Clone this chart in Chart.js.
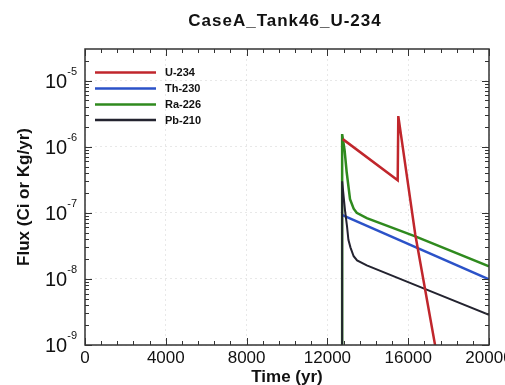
<!DOCTYPE html>
<html>
<head>
<meta charset="utf-8">
<script src="https://cdn.jsdelivr.net/npm/chart.js@4.4.1/dist/chart.umd.min.js"></script>
<style>
  body { margin: 0; background: #fff; }
  #wrap { width: 505px; height: 385px; }
</style>
</head>
<body>
<div id="wrap"><canvas id="fluxChart"></canvas></div>
<script>
// CaseA Tank46 U-234 flux chart
var chartTitle = "CaseA_Tank46_U-234";
var xTitle = "Time (yr)";
var yTitle = "Flux (Ci or Kg/yr)";

var xTicks = [0, 4000, 8000, 12000, 16000, 20000];
var yExponents = [-9, -8, -7, -6, -5];

var seriesNames = ["U-234", "Th-230", "Ra-226", "Pb-210"];
var seriesColors = ["#c0262c", "#2b52c8", "#2f8a1e", "#23232f"];

// time (yr) and flux values
var u234Time = [12760, 15480, 15510, 16350, 17330, 17700];
var u234Flux = [1.3e-6, 3.1e-7, 2.9e-6, 4.7e-8, 1.0e-9, 2.2e-10];

var th230Time = [12745, 20000];
var th230Flux = [9.2e-8, 9.8e-9];

var ra226Time = [12730, 12730, 12850, 12955, 13120, 13300, 13450, 13950, 16350, 20000];
var ra226Flux = [1e-12, 1.55e-6, 8.9e-7, 4.1e-7, 1.6e-7, 1.15e-7, 1.0e-7, 8.3e-8, 4.4e-8, 1.55e-8];

var pb210Time = [12730, 12730, 12870, 12970, 13040, 13140, 13300, 13470, 13950, 16760, 20000];
var pb210Flux = [1e-12, 3.0e-7, 1.1e-7, 6.3e-8, 3.9e-8, 3.0e-8, 2.2e-8, 1.9e-8, 1.6e-8, 7.2e-9, 2.85e-9];

function toPoints(t, v) {
    var pts = [];
    for (var i = 0; i < t.length; i++) {
        pts.push({x: t[i], y: v[i]});
    }
    return pts;
}

var seriesData = [
    toPoints(u234Time, u234Flux),
    toPoints(th230Time, th230Flux),
    toPoints(ra226Time, ra226Flux),
    toPoints(pb210Time, pb210Flux)
];
var drawOrder = [0, 2, 3, 1];
var lineWidths = [2.5, 2.5, 2.5, 2];

var FONT = '"Liberation Sans", Arial, sans-serif';

const framePlugin = {
    id: "frame",
    afterDraw(chart) {
        const ctx = chart.ctx;
        const a = chart.chartArea;
        const x = chart.scales.x;
        const y = chart.scales.y;
        ctx.save();

        // box
        ctx.strokeStyle = "#333";
        ctx.lineWidth = 1.5;
        ctx.strokeRect(a.left, a.top, a.right - a.left, a.bottom - a.top);

        // inward ticks, x
        ctx.lineWidth = 1;
        ctx.beginPath();
        for (let t = 0; t <= 20000; t += 800) {
            const major = t % 4000 === 0;
            const len = major ? 7 : 4;
            const px = Math.round(x.getPixelForValue(t)) + 0.5;
            ctx.moveTo(px, a.bottom); ctx.lineTo(px, a.bottom - len);
            ctx.moveTo(px, a.top); ctx.lineTo(px, a.top + len);
        }
        // inward ticks, y
        for (let e = -9; e <= -5; e++) {
            for (let m = 1; m <= 9; m++) {
                const v = m * Math.pow(10, e);
                if (v > y.max) break;
                const len = m === 1 ? 7 : 4;
                const py = Math.round(y.getPixelForValue(v)) + 0.5;
                ctx.moveTo(a.left, py); ctx.lineTo(a.left + len, py);
                ctx.moveTo(a.right, py); ctx.lineTo(a.right - len, py);
            }
        }
        ctx.stroke();

        // x tick labels
        ctx.fillStyle = "#111";
        ctx.font = "17px " + FONT;
        ctx.textAlign = "center";
        ctx.textBaseline = "middle";
        xTicks.forEach(function(t) {
            ctx.fillText(String(t), x.getPixelForValue(t), a.bottom + 13);
        });

        // y tick labels 10^n
        ctx.textBaseline = "alphabetic";
        ctx.textAlign = "left";
        yExponents.forEach(function(e) {
            const py = y.getPixelForValue(Math.pow(10, e));
            ctx.font = "11px " + FONT;
            const sup = String(e);
            const w2 = ctx.measureText(sup).width;
            ctx.font = "20px " + FONT;
            const w1 = ctx.measureText("10").width;
            const xEnd = a.left - 8;
            ctx.fillText("10", xEnd - w2 - w1, py + 7);
            ctx.font = "11px " + FONT;
            ctx.fillText(sup, xEnd - w2, py - 6);
        });

        // titles
        const cx = (a.left + a.right) / 2;
        ctx.textAlign = "center";
        ctx.textBaseline = "middle";
        ctx.font = "bold 17px " + FONT;
        ctx.letterSpacing = "1px";
        ctx.fillText(chartTitle, cx - 2, 21);
        ctx.letterSpacing = "0px";
        ctx.font = "bold 17px " + FONT;
        ctx.fillText(xTitle, cx, 377);
        ctx.save();
        ctx.translate(24, (a.top + a.bottom) / 2);
        ctx.rotate(-Math.PI / 2);
        ctx.fillText(yTitle, 0, 0);
        ctx.restore();

        // legend
        ctx.font = "bold 11px " + FONT;
        ctx.textAlign = "left";
        const rowsY = [72.5, 88.5, 104.5, 120];
        seriesNames.forEach(function(name, i) {
            ctx.strokeStyle = seriesColors[i];
            ctx.lineWidth = 2.5;
            ctx.beginPath();
            ctx.moveTo(95, rowsY[i]);
            ctx.lineTo(156, rowsY[i]);
            ctx.stroke();
            ctx.fillStyle = "#111";
            ctx.fillText(name, 165, rowsY[i] + 0.5);
        });

        ctx.restore();
    }
};

const ctx = document.getElementById("fluxChart").getContext("2d");

const config = {
    type: "line",
    data: {
        datasets: seriesNames.map(function(name, i) {
            return {
                label: name,
                data: seriesData[i],
                borderColor: seriesColors[i],
                borderWidth: lineWidths[i],
                pointRadius: 0,
                tension: 0,
                fill: false,
                order: drawOrder[i]
            };
        })
    },
    options: {
        responsive: true,
        maintainAspectRatio: false,
        animation: false,
        layout: {
            padding: {left: 85, right: 16, top: 49, bottom: 40}
        },
        scales: {
            x: {
                type: "linear",
                min: 0,
                max: 20000,
                afterBuildTicks: function(s) { s.ticks = xTicks.map(function(v) { return {value: v}; }); },
                afterFit: function(s) { s.height = 0; },
                ticks: { display: false },
                border: { display: false, dash: [2, 3] },
                grid: { color: "rgba(0,0,0,0.09)", drawTicks: false }
            },
            y: {
                type: "logarithmic",
                min: 1e-9,
                max: 3e-5,
                afterBuildTicks: function(s) { s.ticks = yExponents.map(function(e) { return {value: Math.pow(10, e)}; }); },
                afterFit: function(s) { s.width = 0; },
                ticks: { display: false },
                border: { display: false, dash: [2, 3] },
                grid: { color: "rgba(0,0,0,0.09)", drawTicks: false }
            }
        },
        plugins: {
            legend: { display: false },
            tooltip: { enabled: false }
        }
    },
    plugins: [framePlugin]
};

var fluxChart = new Chart(ctx, config);
</script>
</body>
</html>
